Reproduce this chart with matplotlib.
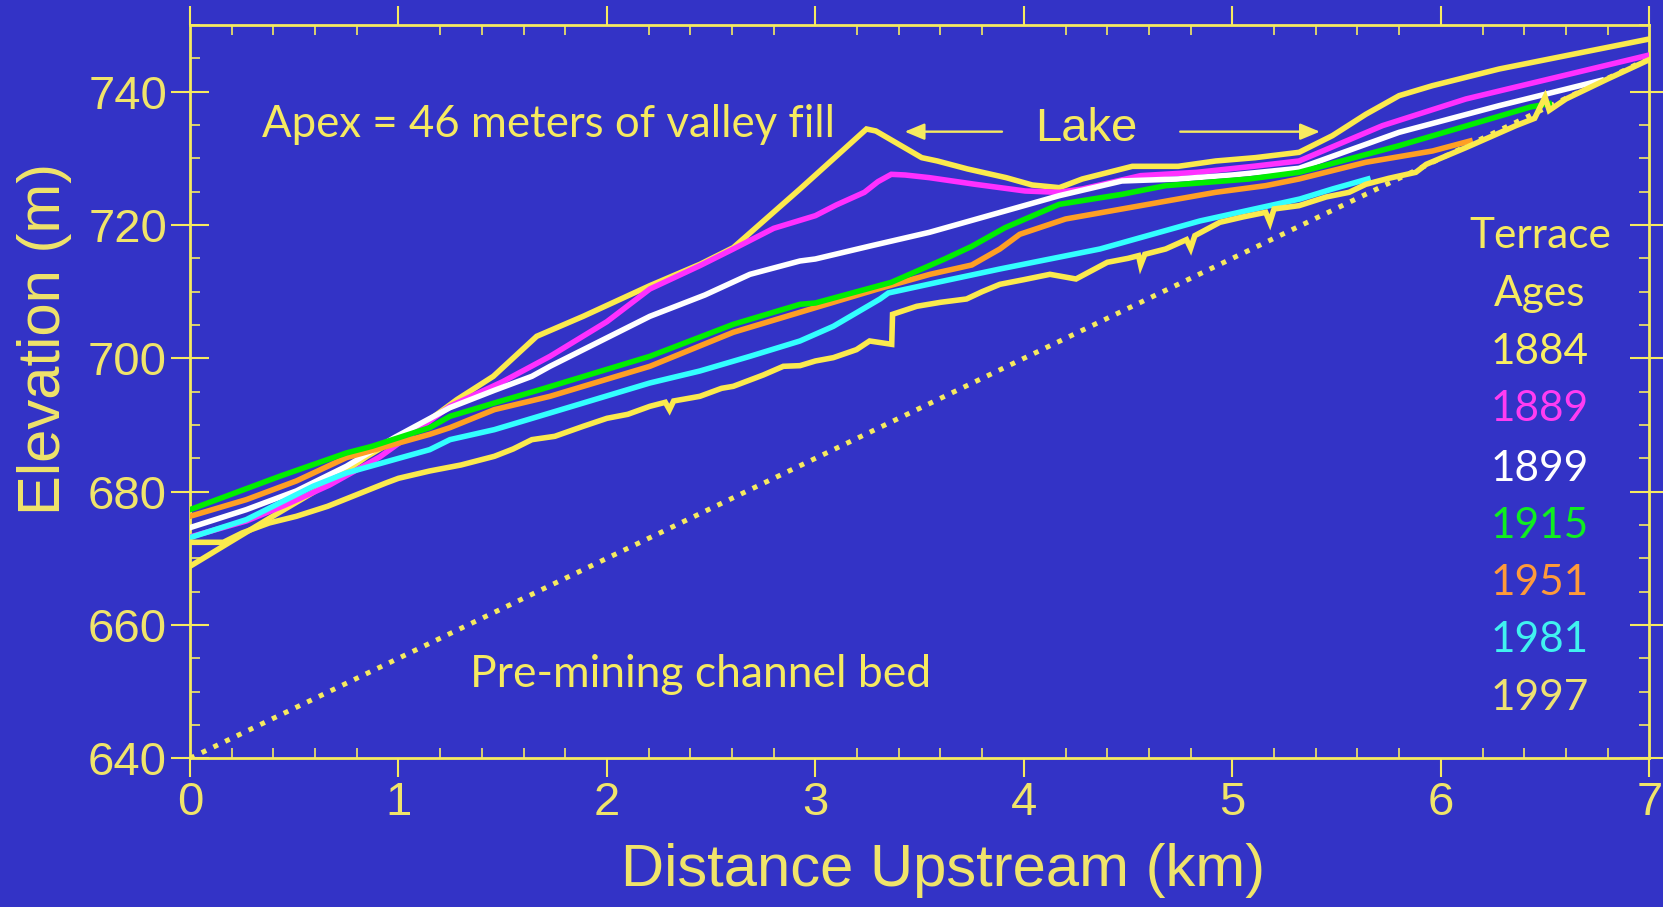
import numpy as np
import matplotlib
matplotlib.use("Agg")
import matplotlib.pyplot as plt
from matplotlib.ticker import MultipleLocator

# profiles of terrace surfaces: distance upstream (km), elevation (m)
x_1884 = [0.0, 0.19, 0.37, 0.64, 0.85, 1.15, 1.28, 1.455, 1.663, 1.886, 2.206, 2.446, 2.606,
          2.926, 3.245, 3.29, 3.51, 3.585, 3.73, 3.915, 4.04, 4.17, 4.28, 4.52, 4.74, 4.92,
          5.11, 5.32, 5.48, 5.64, 5.80, 5.96, 6.28, 6.60, 7.0]
y_1884 = [668.8, 672.4, 675.8, 680.8, 685.3, 690.8, 693.8, 697.3, 703.3, 706.3, 710.9, 714.1, 716.6,
          725.4, 734.4, 734.1, 730.1, 729.6, 728.4, 727.1, 726.0, 725.6, 726.9, 728.8, 728.8, 729.6,
          730.1, 730.9, 733.4, 736.6, 739.4, 740.9, 743.4, 745.4, 747.9]

x_1889 = [0.0, 0.27, 0.45, 0.67, 0.91, 1.15, 1.247, 1.5, 1.727, 2.0, 2.206, 2.446, 2.606, 2.8,
          3.0, 3.1, 3.235, 3.30, 3.364, 3.43, 3.547, 3.767, 4.006, 4.17, 4.28, 4.56, 4.83, 5.1,
          5.32, 5.72, 6.12, 6.52, 7.0]
y_1889 = [673.2, 675.6, 677.9, 681.0, 685.2, 690.6, 692.8, 696.5, 700.3, 705.5, 710.4, 713.9, 716.4, 719.5,
          721.4, 723.0, 724.9, 726.5, 727.6, 727.5, 727.1, 726.1, 725.1, 724.9, 725.4, 727.4, 727.9, 728.8,
          729.6, 734.9, 738.9, 741.9, 745.5]

x_1899 = [0.0, 0.27, 0.51, 0.75, 0.98, 1.247, 1.46, 1.64, 1.727, 2.206, 2.47, 2.686, 2.926, 3.0,
          3.27, 3.547, 3.91, 4.17, 4.47, 4.74, 5.0, 5.32, 5.80, 6.28, 6.77]
y_1899 = [674.6, 677.3, 680.1, 683.8, 688.1, 692.6, 695.2, 697.3, 698.8, 706.3, 709.5, 712.6, 714.6, 714.9,
          716.9, 718.9, 722.1, 724.4, 726.6, 726.9, 727.5, 728.5, 733.9, 737.9, 741.7]

x_1915 = [0.0, 0.43, 0.75, 0.873, 1.15, 1.247, 1.46, 1.679, 2.206, 2.606, 2.926, 3.0, 3.364, 3.62,
          3.75, 3.91, 4.17, 4.47, 4.68, 5.08, 5.32, 5.80, 6.43, 6.52]
y_1915 = [677.3, 682.3, 685.8, 686.8, 689.6, 691.3, 693.3, 695.3, 700.3, 705.1, 708.1, 708.3, 711.4, 714.9,
          716.8, 719.6, 723.1, 724.6, 725.9, 726.9, 727.9, 731.9, 737.7, 738.2]

x_1951 = [0.0, 0.27, 0.51, 0.75, 1.15, 1.247, 1.46, 1.727, 2.206, 2.606, 2.926, 3.0, 3.3, 3.55,
          3.75, 3.885, 3.98, 4.20, 4.56, 4.92, 5.16, 5.32, 5.64, 5.96, 6.14]
y_1951 = [676.3, 678.8, 681.6, 685.1, 688.6, 689.6, 692.3, 694.3, 698.8, 703.9, 706.9, 707.6, 710.4, 712.6,
          714.0, 716.4, 718.6, 720.9, 722.9, 724.9, 725.9, 726.9, 729.4, 731.1, 732.6]

x_1981 = [0.0, 0.27, 0.59, 0.75, 1.15, 1.247, 1.46, 1.727, 2.206, 2.446, 2.686, 2.926, 3.086, 3.31,
          3.35, 3.6, 3.885, 4.365, 4.844, 5.324, 5.48, 5.65]
y_1981 = [673.1, 675.8, 680.8, 682.8, 686.3, 687.8, 689.3, 691.8, 696.3, 698.1, 700.3, 702.6, 704.8, 708.9,
          709.8, 711.5, 713.4, 716.4, 720.6, 723.9, 725.4, 726.9]

x_1997 = [0.0, 0.16, 0.25, 0.38, 0.51, 0.66, 0.78, 0.94, 1.0, 1.15, 1.30, 1.46, 1.55, 1.64, 1.75,
          1.886, 2.0, 2.1, 2.206, 2.28, 2.30, 2.32, 2.446, 2.55, 2.606, 2.75, 2.846, 2.926, 3.0,
          3.086, 3.197, 3.26, 3.366, 3.37, 3.486, 3.6, 3.725, 3.8, 3.885, 4.0, 4.125, 4.25, 4.40,
          4.5, 4.55, 4.56, 4.58, 4.68, 4.78, 4.80, 4.82, 4.94, 5.05, 5.16, 5.18, 5.20, 5.32, 5.45,
          5.56, 5.64, 5.75, 5.88, 5.93, 6.12, 6.36, 6.45, 6.50, 6.52, 6.60, 6.8, 7.0]
y_1997 = [672.4, 672.4, 673.8, 675.3, 676.3, 677.8, 679.3, 681.3, 682.0, 683.1, 684.0, 685.3, 686.4, 687.8, 688.3,
          689.8, 691.0, 691.6, 692.8, 693.4, 692.3, 693.6, 694.3, 695.5, 695.8, 697.5, 698.8, 698.9, 699.6,
          700.1, 701.3, 702.6, 702.1, 706.6, 707.8, 708.4, 708.9, 710.0, 711.1, 711.8, 712.6, 711.9, 714.4,
          715.0, 715.4, 714.0, 715.6, 716.4, 717.8, 716.5, 718.4, 720.4, 721.2, 721.9, 720.4, 722.4, 722.9, 724.2,
          724.9, 726.1, 727.0, 727.9, 729.1, 731.6, 734.9, 736.0, 739.2, 737.2, 738.9, 741.9, 744.8]

# pre-mining channel bed
x_bed = [0.0, 7.0]
y_bed = [640.0, 745.0]

years = ["1884", "1889", "1899", "1915", "1951", "1981", "1997"]
line_colors = ["#FBEA4E", "#FF30FF", "#FFFFFF", "#00EE00", "#FF9F24", "#33FFFF", "#FBEA4E"]
text_colors = ["#F9EE62", "#FF3CF2", "#FFFFFF", "#10EE20", "#FF9A3A", "#40F2F0", "#EEE272"]

bg = "#3333C6"
yel = "#F6EA60"

fig = plt.figure(figsize=(16.63, 9.07), dpi=100, facecolor=bg)
ax = fig.add_axes([0.11425, 0.16395, 0.87751, 0.80849])
ax.set_facecolor(bg)

ax.plot(x_bed, y_bed, color=yel, lw=3.6, linestyle=(0, (1, 1.6)), dash_capstyle="butt", zorder=2)

series = [(x_1884, y_1884), (x_1889, y_1889), (x_1899, y_1899), (x_1951, y_1951),
          (x_1915, y_1915), (x_1981, y_1981), (x_1997, y_1997)]
order = [0, 1, 2, 4, 3, 5, 6]
for (xs, ys), i in zip(series, order):
    ax.plot(xs, ys, color=line_colors[i], lw=4, solid_joinstyle="miter", zorder=3)

ax.set_xlim(0, 7)
ax.set_ylim(640, 750)
ax.set_xticks(range(8))
ax.set_yticks(range(640, 741, 20))
ax.xaxis.set_minor_locator(MultipleLocator(0.2))
ax.yaxis.set_minor_locator(MultipleLocator(5))

for s in ax.spines.values():
    s.set_color(yel)
    s.set_linewidth(2)

ax.tick_params(axis="x", which="major", direction="out", length=13.5, width=1.5,
               top=True, bottom=True, color=yel, pad=3)
ax.tick_params(axis="y", which="major", direction="inout", length=27, width=1.5,
               left=True, right=True, color=yel, pad=3)
ax.tick_params(which="minor", direction="in", length=7.2, width=1.2,
               top=True, bottom=True, left=True, right=True, color=yel)
for lab in ax.get_xticklabels() + ax.get_yticklabels():
    lab.set_fontfamily("Liberation Sans")
    lab.set_fontsize(34)
    lab.set_color("#F0E46A")

ax.set_xlabel("Distance Upstream (km)", fontsize=43, color="#F0E46A", family="Liberation Sans")
ax.set_ylabel("Elevation (m)", fontsize=43, color="#F0E46A", family="Liberation Sans")
ax.xaxis.set_label_coords(0.516, -0.1155)
ax.yaxis.set_label_coords(-0.081, 0.572)

# annotations
ax.text(0.345, 733.15, "Apex = 46 meters of valley fill", fontsize=31.5, color=yel,
        family="Lato", va="baseline", ha="left", zorder=5)
ax.text(4.30, 732.6, "Lake", fontsize=34, color=yel, family="Liberation Sans",
        va="baseline", ha="center", zorder=5)
arrow = dict(arrowstyle="-|>,head_length=0.6,head_width=0.25", color=yel, lw=1.7,
             mutation_scale=20, shrinkA=0, shrinkB=0)
ax.annotate("", xy=(3.428, 734.0), xytext=(3.895, 734.0), arrowprops=arrow, zorder=5)
ax.annotate("", xy=(5.42, 734.0), xytext=(4.75, 734.0), arrowprops=arrow, zorder=5)
ax.text(1.343, 650.7, "Pre-mining channel bed", fontsize=32, color=yel,
        family="Lato", va="baseline", ha="left", zorder=5)

# legend column
heads = ["Terrace", "Ages"] + years
head_colors = [yel, yel] + text_colors
base_y = [248.3, 306.7, 365, 421.7, 481.7, 538.3, 595.7, 651.7, 710]
for t, c, py in zip(heads, head_colors, base_y):
    ax.text(6.475, 640 + (758.3 - py) / 6.656, t, fontsize=30.5, color=c, family="Lato",
            ha="center", va="baseline", zorder=5)

fig.savefig("out.png", dpi=100, facecolor=bg)
